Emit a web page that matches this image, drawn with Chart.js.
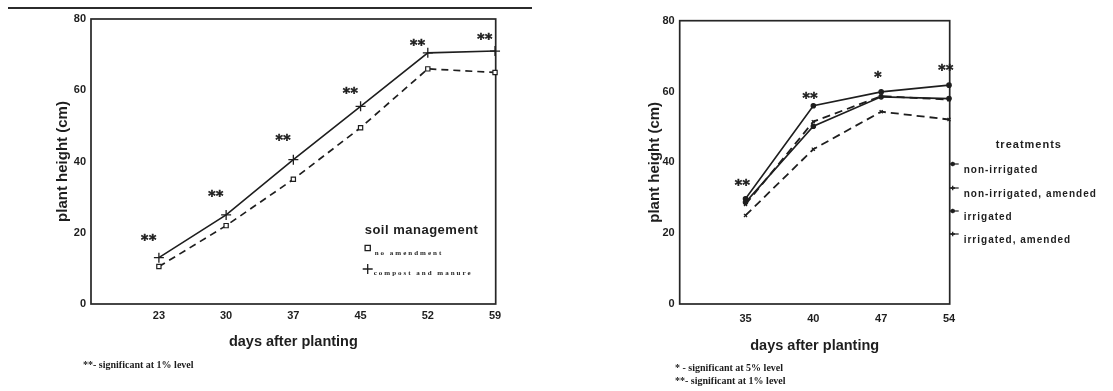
<!DOCTYPE html>
<html>
<head>
<meta charset="utf-8">
<title>Plant height</title>
<script src="https://cdn.jsdelivr.net/npm/chart.js@4"></script>
<style>
  html, body { margin: 0; padding: 0; background: #fff; }
  #page { position: relative; width: 1113px; height: 391px; overflow: hidden; background: #fff; }
  canvas { position: absolute; top: 0; }
  #rule { position: absolute; left: 8px; top: 7px; width: 524px; height: 2px; background: #2b2b2b; }
  .note { position: absolute; font: bold 10px "Liberation Serif", serif; color: #1c1c1c; white-space: nowrap; line-height: 12px; }
</style>
</head>
<body>
<div id="page">
  <div id="rule"></div>
  <canvas id="left" width="560" height="391" style="left:0"></canvas>
  <canvas id="right" width="553" height="391" style="left:560px"></canvas>
  <div class="note" style="left:83px; top:359px">**- significant at 1% level</div>
  <div class="note" style="left:675px; top:362px">* - significant at 5% level</div>
  <div class="note" style="left:675px; top:375px">**- significant at 1% level</div>
</div>
<script>
// ---- soil management trial ----
const daysLeft = ['23', '30', '37', '45', '52', '59'];
const noAmendment = [10.5, 22, 35, 49.5, 66, 65];
const compostManure = [13, 25, 40.5, 55.5, 70.5, 71];
const sigLeft = [19.3, 31.7, 47.2, 60.5, 74, 75.7];
const sigLeftMarks = ['**', '**', '**', '**', '**', '**'];

// ---- irrigation x amendment trial ----
const daysRight = ['35', '40', '47', '54'];
const nonIrrigated = [25, 43.7, 54.3, 52.1];
const nonIrrigatedAmended = [28.7, 50.2, 58.5, 58];
const irrigated = [28.1, 51.5, 58.7, 57.7];
const irrigatedAmended = [29.7, 56, 59.9, 61.8];
const sigRight = [35, 59.4, 65.4, 67.3];
const sigRightMarks = ['**', '**', '*', '**'];

const yTicks = [0, 20, 40, 60, 80];

const INK = '#1e1e1e';
const SANS = '"Liberation Sans", Arial, sans-serif';
const SERIF = '"Liberation Serif", "Times New Roman", serif';

const toPoints = arr => arr.map((v, i) => ({ x: i, y: v }));

// small marker shapes used in the hand-drawn legends
function marker(ctx, style, x, y, r) {
  ctx.save();
  ctx.strokeStyle = INK; ctx.fillStyle = INK; ctx.lineWidth = 1.3;
  ctx.beginPath();
  if (style === 'rect') {
    ctx.rect(x - r, y - r, 2 * r, 2 * r); ctx.stroke();
  } else if (style === 'cross') {
    ctx.moveTo(x - r, y); ctx.lineTo(x + r, y);
    ctx.moveTo(x, y - r); ctx.lineTo(x, y + r); ctx.stroke();
  } else if (style === 'star') {
    for (let k = 0; k < 4; k++) {
      const a = k * Math.PI / 4;
      ctx.moveTo(x - r * Math.cos(a), y - r * Math.sin(a));
      ctx.lineTo(x + r * Math.cos(a), y + r * Math.sin(a));
    }
    ctx.stroke();
  }
  ctx.restore();
}

// frame around the plotting area
const framePlugin = {
  id: 'frame',
  beforeDatasetsDraw(chart) {
    const { ctx, chartArea: a } = chart;
    ctx.save();
    ctx.strokeStyle = '#262626';
    ctx.lineWidth = 1.7;
    ctx.strokeRect(a.left, a.top, a.right - a.left, a.bottom - a.top);
    ctx.restore();
  }
};

// significance asterisks above each sampling date
const sigPlugin = {
  id: 'sig',
  afterDatasetsDraw(chart, args, opts) {
    const { ctx, scales: { x, y } } = chart;
    ctx.save();
    ctx.font = 'bold 14px "DejaVu Sans", sans-serif';
    ctx.letterSpacing = '0.5px';
    ctx.textAlign = 'center';
    ctx.textBaseline = 'alphabetic';
    ctx.fillStyle = INK;
    ctx.strokeStyle = INK;
    ctx.lineWidth = 0.6;
    opts.values.forEach((v, i) => {
      const px = x.getPixelForValue(i) + opts.dx;
      const py = y.getPixelForValue(v) + 8.5;
      ctx.fillText(opts.marks[i], px, py);
      ctx.strokeText(opts.marks[i], px, py);
    });
    ctx.restore();
  }
};

function baseScales(labels, xmin, xmax, yWidth, yTitlePad, xHeight, xTitlePad, xTickPad) {
  return {
    x: {
      type: 'linear',
      min: xmin, max: xmax,
      grid: { display: false, drawTicks: false },
      border: { display: false },
      afterBuildTicks: s => { s.ticks = labels.map((_, i) => ({ value: i })); },
      afterFit: s => { s.height = xHeight; },
      ticks: {
        autoSkip: false, maxRotation: 0, padding: xTickPad, color: INK,
        font: { family: SANS, size: 11, weight: 'bold' },
        callback: v => labels[v]
      },
      title: {
        display: true, text: 'days after planting', color: INK,
        font: { family: SANS, size: 14.5, weight: 'bold' },
        padding: { top: 0, bottom: xTitlePad }
      }
    },
    y: {
      min: 0, max: 80,
      grid: { display: false, drawTicks: false },
      border: { display: false },
      afterBuildTicks: s => { s.ticks = yTicks.map(v => ({ value: v })); },
      afterFit: s => { s.width = yWidth; },
      ticks: {
        padding: 5, color: INK,
        font: { family: SANS, size: 11, weight: 'bold' }
      },
      title: {
        display: true, text: 'plant height (cm)', color: INK,
        font: { family: SANS, size: 15, weight: 'bold' },
        padding: { top: yTitlePad, bottom: 0 }
      }
    }
  };
}

const common = {
  responsive: false,
  animation: false,
  devicePixelRatio: 1,
  events: [],
  plugins: { legend: { display: false }, tooltip: { enabled: false } }
};

// ---------- left panel ----------
const leftLegend = {
  id: 'leftLegend',
  afterDraw(chart) {
    const { ctx, chartArea: a } = chart;
    ctx.save();
    ctx.fillStyle = INK;
    ctx.textBaseline = 'middle';
    ctx.font = 'bold 13px ' + SANS;
    ctx.textAlign = 'left';
    ctx.letterSpacing = '0.5px';
    ctx.fillText('soil management', a.right - 131, a.bottom - 74);
    ctx.font = 'bold 7px ' + SERIF;
    ctx.letterSpacing = '2px';
    marker(ctx, 'rect', a.right - 128, a.bottom - 56, 2.6);
    ctx.fillText('no amendment', a.right - 121, a.bottom - 51);
    marker(ctx, 'cross', a.right - 128, a.bottom - 35, 5);
    ctx.fillText('compost and manure', a.right - 122, a.bottom - 31);
    ctx.restore();
  }
};

new Chart(document.getElementById('left'), {
  type: 'line',
  data: {
    datasets: [
      {
        label: 'no amendment',
        data: toPoints(noAmendment),
        borderColor: INK, borderWidth: 1.7, borderDash: [7, 5],
        pointStyle: 'rect', pointRadius: 3, pointBorderWidth: 1.2,
        pointBorderColor: INK, pointBackgroundColor: '#fff',
        tension: 0, clip: false
      },
      {
        label: 'compost and manure',
        data: toPoints(compostManure),
        borderColor: INK, borderWidth: 1.6,
        pointStyle: 'cross', pointRadius: 5, pointBorderWidth: 1.3,
        pointBorderColor: INK,
        tension: 0, clip: false
      }
    ]
  },
  options: Object.assign({}, common, {
    layout: { padding: { left: 0, top: 19, right: 64.3, bottom: 0 } },
    scales: baseScales(daysLeft, -1.01, 5.01, 91, 54.3, 87, 40, 5),
    plugins: Object.assign({}, common.plugins, {
      sig: { values: sigLeft, marks: sigLeftMarks, dx: -10 }
    })
  }),
  plugins: [framePlugin, sigPlugin, leftLegend]
});

// ---------- right panel ----------
const rightSeries = [
  { name: 'non-irrigated', data: nonIrrigated, dash: [8, 5], style: 'star' },
  { name: 'non-irrigated, amended', data: nonIrrigatedAmended, dash: [], style: 'cross' },
  { name: 'irrigated', data: irrigated, dash: [8, 5], style: 'star' },
  { name: 'irrigated, amended', data: irrigatedAmended, dash: [], style: 'cross' }
];

const rightLegend = {
  id: 'rightLegend',
  afterDraw(chart) {
    const { ctx, chartArea: a } = chart;
    ctx.save();
    ctx.fillStyle = INK;
    ctx.textBaseline = 'middle';
    ctx.textAlign = 'left';
    ctx.font = 'bold 11px ' + SANS;
    ctx.letterSpacing = '1px';
    ctx.fillText('treatments', a.right + 46, 145);
    ctx.font = 'bold 10px ' + SANS;
    const rows = [164, 188, 211, 234];
    rightSeries.forEach((s, i) => {
      const yy = rows[i];
      ctx.save();
      ctx.strokeStyle = INK; ctx.lineWidth = 1.2;
      ctx.beginPath(); ctx.moveTo(a.right, yy); ctx.lineTo(a.right + 9, yy); ctx.stroke();
      ctx.restore();
      marker(ctx, s.style, a.right + 3, yy, 2.3);
      ctx.fillText(s.name, a.right + 14, yy + 6);
    });
    ctx.restore();
  }
};

new Chart(document.getElementById('right'), {
  type: 'line',
  data: {
    datasets: rightSeries.map(s => ({
      label: s.name,
      data: toPoints(s.data),
      borderColor: INK,
      borderWidth: s.dash.length ? 1.8 : 1.6,
      borderDash: s.dash,
      pointStyle: s.style === 'cross' ? 'circle' : 'crossRot',
      pointRadius: 2.2, pointBorderWidth: 1.2,
      pointBorderColor: INK, pointBackgroundColor: INK,
      tension: 0, clip: false
    }))
  },
  options: Object.assign({}, common, {
    layout: { padding: { left: 0, top: 20.7, right: 163.3, bottom: 0 } },
    scales: baseScales(daysRight, -0.97, 3.01, 119.7, 85.7, 87, 36, 8),
    plugins: Object.assign({}, common.plugins, {
      sig: { values: sigRight, marks: sigRightMarks, dx: -3 }
    })
  }),
  plugins: [framePlugin, sigPlugin, rightLegend]
});
</script>
</body>
</html>
